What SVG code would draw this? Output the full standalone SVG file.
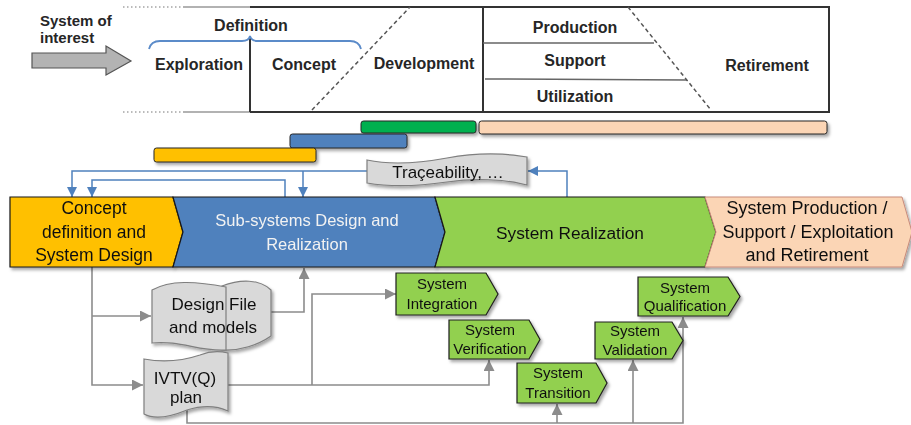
<svg xmlns="http://www.w3.org/2000/svg" width="911" height="425" viewBox="0 0 911 425">
<defs>
<style>
.tb{font-family:"Liberation Sans",Arial,sans-serif;font-weight:bold;font-size:16px;fill:#262626;text-anchor:middle}
.tx{font-family:"Liberation Sans",Arial,sans-serif;fill:#111;text-anchor:middle}
.bx{stroke:#333;stroke-width:2;fill:none}
.dash{stroke:#555;stroke-width:1.5;stroke-dasharray:4,3;fill:none}
.dot{stroke:#777;stroke-width:1;stroke-dasharray:1.5,2.5;fill:none}
.bar{stroke:#262626;stroke-width:1}
.chev{stroke:#1a1a1a;stroke-width:1.2}
.gshape{fill:#d9d9d9;stroke:#7f7f7f;stroke-width:1.2}
.bl{stroke:#4f81bd;stroke-width:1.5;fill:none}
.gl{stroke:#8c8c8c;stroke-width:1.6;fill:none}
.sm{fill:#92d050;stroke:#1f1f1f;stroke-width:1.2}
</style>
<filter id="sh" x="-10%" y="-20%" width="130%" height="150%">
<feDropShadow dx="2" dy="2.5" stdDeviation="1.5" flood-color="#000" flood-opacity="0.35"/>
</filter>
<marker id="ab" viewBox="0 0 10 10" refX="10" refY="5" markerWidth="10" markerHeight="10" markerUnits="userSpaceOnUse" orient="auto">
<path d="M0,0 L10,5 L0,10 z" fill="#4f81bd"/>
</marker>
<marker id="ag" viewBox="0 0 10 10" refX="10" refY="5" markerWidth="11" markerHeight="11" markerUnits="userSpaceOnUse" orient="auto">
<path d="M0,0 L10,5 L0,10 z" fill="#8c8c8c"/>
</marker>
</defs>

<!-- Top life cycle frame -->
<g id="lifecycle">
<path class="dot" d="M123,7 H183 M123,112 H183"/>
<path d="M183,7 H250 M183,112 H250" stroke="#666" stroke-width="1.2" fill="none"/>
<path class="bx" d="M250,7 H829 V112 H250"/>
<path class="bx" d="M250,38 V112"/>
<path class="bx" d="M483,7 V112" />
<path d="M483,43 H654 M485,79 L687,80" stroke="#666" stroke-width="1.5" fill="none"/>
<path class="dash" d="M312,110 L410,7"/>
<path class="dash" d="M628,7 L711,110"/>
<path d="M149,49 Q151,41 160,41 H242 Q249,41 250,36 Q251,41 258,41 H350 Q359,41 361,49" stroke="#5b8bc9" stroke-width="1.8" fill="none"/>
<path d="M32,53 H106 V46 L131,61 L106,75 V68 H32 Z" fill="#b3b3b3" stroke="#555" stroke-width="1.2"/>
<text class="tb" style="text-anchor:start;font-size:15px" x="40" y="26">System of</text>
<text class="tb" style="text-anchor:start;font-size:15px" x="40" y="43">interest</text>
<text class="tb" x="251" y="31">Definition</text>
<text class="tb" x="199" y="70">Exploration</text>
<text class="tb" x="304" y="70">Concept</text>
<text class="tb" x="424" y="69">Development</text>
<text class="tb" x="575" y="33">Production</text>
<text class="tb" x="575" y="66">Support</text>
<text class="tb" x="575" y="102">Utilization</text>
<text class="tb" x="767" y="71">Retirement</text>
</g>

<!-- Gantt bars -->
<g id="bars" filter="url(#sh)">
<rect class="bar" x="361" y="121" width="115" height="12" rx="2.5" fill="#00b050"/>
<rect class="bar" x="479" y="121" width="348" height="13" rx="2.5" fill="#fbd5b5"/>
<rect class="bar" x="290" y="134" width="117" height="14" rx="2.5" fill="#4f81bd"/>
<rect class="bar" x="154" y="148" width="162" height="14" rx="2.5" fill="#ffc000"/>
</g>

<!-- Connectors -->
<g id="connectors">
<path class="bl" d="M367,171 H72 V197" marker-end="url(#ab)"/>
<path class="bl" d="M285,197 V180 H92 V197" marker-end="url(#ab)"/>
<path class="bl" d="M303,171 V197" marker-end="url(#ab)"/>
<path class="bl" d="M567,197 V171 H528" marker-end="url(#ab)"/>
<path class="gl" d="M92,267 V385 H143" marker-end="url(#ag)"/>
<path class="gl" d="M92,316 H151" marker-end="url(#ag)"/>
<path class="gl" d="M271,312 H304 V268" marker-end="url(#ag)"/>
<path class="gl" d="M228,385 H489 V360" marker-end="url(#ag)"/>
<path class="gl" d="M312,385 V294 H396" marker-end="url(#ag)"/>
<path class="gl" d="M187,410 V423 H683 V317" marker-end="url(#ag)"/>
<path class="gl" d="M557,423 V404" marker-end="url(#ag)"/>
<path class="gl" d="M633,423 V360" marker-end="url(#ag)"/>
</g>

<!-- Traceability -->
<g id="traceability" filter="url(#sh)">
<path class="gshape" d="M367,160 C390,165 420,163 447,158 C474,153 504,153 527,157 L527,185 C504,179 474,178 447,182 C420,186 390,187 367,183 Z"/>
<text class="tx" x="448" y="178" font-size="17">Traçeability, …</text>
</g>

<!-- Main chevron bar -->
<g id="concept-definition" filter="url(#sh)">
<path class="chev" fill="#ffc000" d="M10,197 H173 L183,232 L173,267 H10 Z"/>
<text class="tx" font-size="17.5" x="94" y="214">Concept</text>
<text class="tx" font-size="17.5" x="94" y="238">definition and</text>
<text class="tx" font-size="17.5" x="94" y="261">System Design</text>
</g>
<g id="subsystems" filter="url(#sh)">
<path class="chev" fill="#4f81bd" d="M173,197 H435 L445,232 L435,267 H173 L183,232 Z"/>
<text class="tx" font-size="16.5" x="307" y="226" fill="#f2f2f2" style="fill:#f2f2f2">Sub-systems Design and</text>
<text class="tx" font-size="16.5" x="307" y="250" style="fill:#f2f2f2">Realization</text>
</g>
<g id="system-realization" filter="url(#sh)">
<path class="chev" fill="#92d050" d="M435,197 H705 L716,232 L705,267 H435 L445,232 Z"/>
<text class="tx" font-size="17.3" x="570" y="239">System Realization</text>
</g>
<g id="system-production" filter="url(#sh)">
<path fill="#fbd5b5" stroke="#c98b7a" stroke-width="1" d="M705,197 H902 L912,232 L902,267 H705 L716,232 Z"/>
<text class="tx" font-size="18" x="807" y="214">System Production /</text>
<text class="tx" font-size="18" x="808" y="238">Support / Exploitation</text>
<text class="tx" font-size="18" x="807" y="261">and Retirement</text>
</g>

<!-- Design file -->
<g id="design-file" filter="url(#sh)">
<path class="gshape" d="M222,286 C240,279 260,279 271,290 L271,336 C258,345 240,351 222,350 Z"/>
<path class="gshape" d="M152,290 C170,280 195,281 226,287 L226,350 C200,352 180,340 152,343 Z"/>
<text class="tx" font-size="17" x="214" y="310">Design File</text>
<text class="tx" font-size="17" x="213" y="333">and models</text>
</g>

<!-- IVTV(Q) plan -->
<g id="ivtvq-plan" filter="url(#sh)">
<path class="gshape" d="M144,359 C165,363 185,360 200,355 C210,351 220,351 228,353 L228,411 C215,405 200,406 187,410 C170,417 155,420 144,414 Z"/>
<text class="tx" font-size="17" x="185" y="384">IVTV(Q)</text>
<text class="tx" font-size="17" x="186" y="403">plan</text>
</g>

<!-- Small process chevrons -->
<g id="system-integration" filter="url(#sh)">
<path class="sm" d="M396,273 H486 L498,294 L486,315 H396 Z"/>
<text class="tx" font-size="15" x="442" y="289">System</text>
<text class="tx" font-size="15" x="442" y="309">Integration</text>
</g>
<g id="system-verification" filter="url(#sh)">
<path class="sm" d="M449,320 H529 L540,339.5 L529,359 H449 Z"/>
<text class="tx" font-size="15" x="490" y="335">System</text>
<text class="tx" font-size="15" x="490" y="354">Verification</text>
</g>
<g id="system-transition" filter="url(#sh)">
<path class="sm" d="M517,363 H596 L607,383 L596,403 H517 Z"/>
<text class="tx" font-size="15" x="558" y="378">System</text>
<text class="tx" font-size="15" x="558" y="398">Transition</text>
</g>
<g id="system-validation" filter="url(#sh)">
<path class="sm" d="M595,322 H672 L683,340.5 L672,359 H595 Z"/>
<text class="tx" font-size="15" x="635" y="336">System</text>
<text class="tx" font-size="15" x="635" y="355">Validation</text>
</g>
<g id="system-qualification" filter="url(#sh)">
<path class="sm" d="M638,277 H728 L740,296.5 L728,316 H638 Z"/>
<text class="tx" font-size="15" x="685" y="293">System</text>
<text class="tx" font-size="15" x="685" y="311">Qualification</text>
</g>
</svg>
